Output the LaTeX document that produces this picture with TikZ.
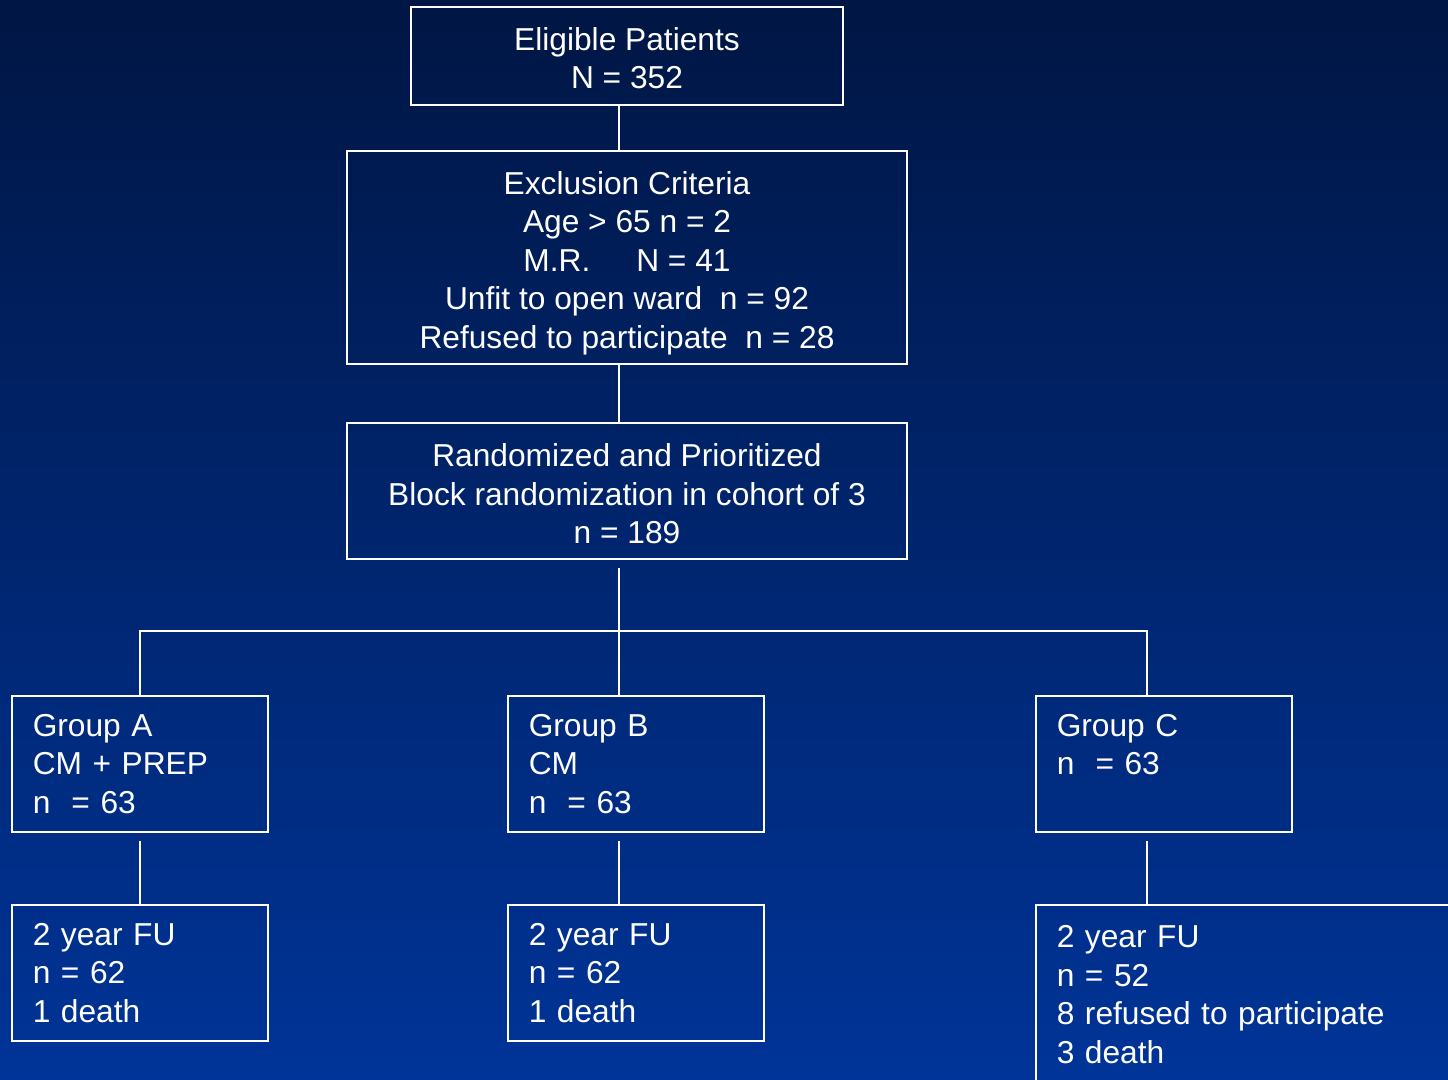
\documentclass[tikz,border=0pt]{standalone}
\usepackage{fontspec}
\setmainfont{Liberation Sans}
\definecolor{deepnavy}{RGB}{0,22,68}
\definecolor{slideblue}{RGB}{0,52,152}
\usetikzlibrary{positioning}

\begin{document}
\begin{tikzpicture}[x=1pt, y=-1pt,
      link/.style={draw=white, line width=1.5pt},
      headbox/.style={draw=white, line width=1.5pt, text=white, align=center,
                      inner sep=0pt, font=\fontsize{31.7}{38.5}\selectfont},
      armbox/.style={draw=white, line width=1.5pt, text=white, align=left,
                     anchor=north west, inner xsep=21pt, inner ysep=0pt,
                     minimum width=256pt, minimum height=136pt, text width=214pt,
                     font=\fontsize{31.7}{38.5}\selectfont}
    ]
    \shade[top color=deepnavy, bottom color=slideblue] (0,0) rectangle (1448,1079);
    \useasboundingbox (0,0) rectangle (1448,1079);
    \clip (0,0) rectangle (1448,1079);
    \coordinate (spine) at (619,0);
    \coordinate (laneC) at (1147,0);
    \coordinate (fork) at (619,631);
    % screening
    \node[headbox, minimum width=432pt, minimum height=98pt] (elig) at (627,56)
      {\rule{0pt}{27pt}Eligible Patients\\N = 352};
    \node[headbox, minimum width=560pt, minimum height=213pt] (excl) at (627,257.5)
      {\rule{0pt}{34pt}Exclusion Criteria\\Age > 65 n = 2\\M.R.\hspace{46pt}N = 41\\
       Unfit to open ward~~n = 92\\Refused to participate~~n = 28};
    \node[headbox, minimum width=560pt, minimum height=136pt] (rand) at (627,491)
      {\rule{0pt}{29pt}Randomized and Prioritized\\Block randomization in cohort of 3\\n = 189};
    % arms
    \node[armbox] (grpA) at (11,695) {Group A\\CM + PREP\\n~~= 63};
    \node[armbox] (grpB) at (507,695) {Group B\\CM\\n~~= 63};
    \node[armbox] (grpC) at (1035,695) {Group C\\n~~= 63\\\mbox{}};
    % follow-up
    \node[armbox] (fuA) at (11,904) {2 year FU\\n = 62\\1 death};
    \node[armbox] (fuB) at (507,904) {2 year FU\\n = 62\\1 death};
    \node[armbox, minimum width=430pt, minimum height=180pt, text width=388pt] (fuC)
      at (1035,904) {2 year FU\\n = 52\\8 refused to participate\\3 death};
    \draw[link] (elig.south -| spine) -- (excl.north -| spine);
    \draw[link] (excl.south -| spine) -- (rand.north -| spine);
    \draw[link, shorten <=8pt] (rand.south -| spine) -- (fork);
    \draw[link] (grpA.north) |- (fork) -| (grpC.north -| laneC);
    \draw[link] (fork) -- (grpB.north -| spine);
    \draw[link, shorten <=8pt] (grpA.south) -- (fuA.north);
    \draw[link, shorten <=8pt] (grpB.south -| spine) -- (fuB.north -| spine);
    \draw[link, shorten <=8pt] (grpC.south -| laneC) -- (fuC.north -| laneC);
  \end{tikzpicture}
\end{document}
